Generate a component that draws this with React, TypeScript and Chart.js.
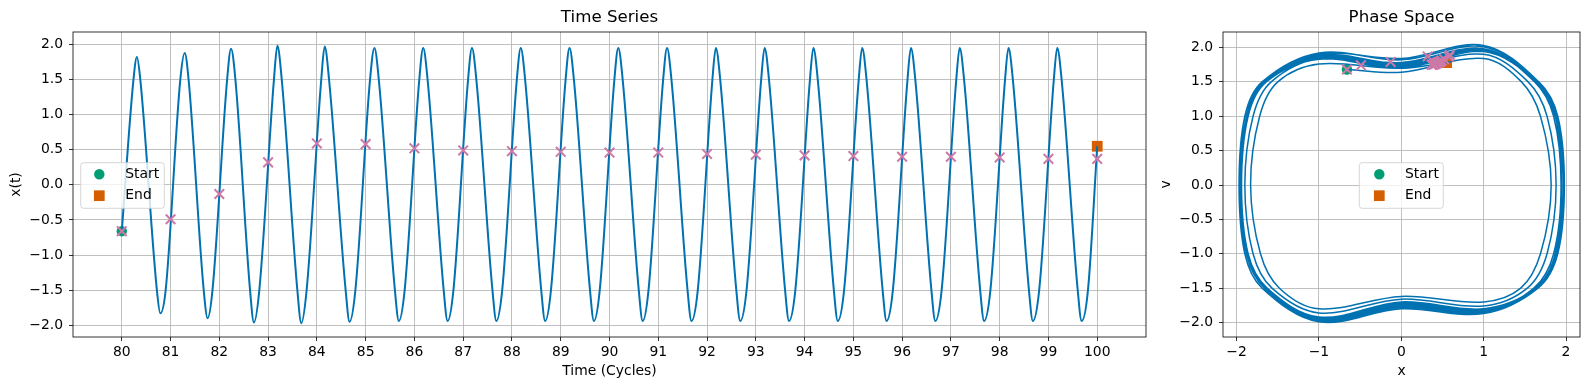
import React, { useEffect, useRef } from 'react';
import { Chart, registerables } from 'chart.js';
Chart.register(...registerables);

// ---------------- Time series x(t) (time in cycles) ----------------
const TS_T = [
  80.00, 80.24, 80.31, 80.38, 80.72, 80.79,
  80.90, 81.20, 81.29, 81.37, 81.68, 81.76,
  81.86, 82.16, 82.24, 82.33, 82.63, 82.71,
  82.82, 83.12, 83.19, 83.28, 83.60, 83.68,
  83.79, 84.09, 84.16, 84.25, 84.59, 84.67,
  84.79, 85.09, 85.18, 85.27, 85.60, 85.68,
  85.80, 86.10, 86.18, 86.27, 86.60, 86.68,
  86.80, 87.10, 87.18, 87.27, 87.60, 87.68,
  87.80, 88.10, 88.18, 88.27, 88.60, 88.68,
  88.80, 89.10, 89.18, 89.27, 89.60, 89.68,
  89.80, 90.10, 90.18, 90.27, 90.60, 90.68,
  90.80, 91.10, 91.18, 91.27, 91.60, 91.68,
  91.81, 92.11, 92.18, 92.27, 92.60, 92.68,
  92.81, 93.11, 93.18, 93.27, 93.60, 93.68,
  93.81, 94.11, 94.18, 94.27, 94.60, 94.68,
  94.81, 95.11, 95.18, 95.27, 95.60, 95.68,
  95.81, 96.11, 96.18, 96.27, 96.60, 96.68,
  96.81, 97.11, 97.18, 97.27, 97.60, 97.68,
  97.81, 98.11, 98.18, 98.27, 98.60, 98.68,
  98.81, 99.11, 99.18, 99.27, 99.60, 99.68,
  99.81, 100.00,
];
const TS_X = [
  -0.66, 1.50, 1.82, 1.50, -1.50, -1.83,
  -1.50, 1.50, 1.88, 1.50, -1.50, -1.90,
  -1.50, 1.50, 1.94, 1.50, -1.50, -1.96,
  -1.50, 1.50, 1.98, 1.50, -1.50, -1.97,
  -1.50, 1.50, 1.97, 1.50, -1.50, -1.95,
  -1.50, 1.50, 1.95, 1.50, -1.50, -1.94,
  -1.50, 1.50, 1.95, 1.50, -1.50, -1.94,
  -1.50, 1.50, 1.95, 1.50, -1.50, -1.94,
  -1.50, 1.50, 1.95, 1.50, -1.50, -1.94,
  -1.50, 1.50, 1.95, 1.50, -1.50, -1.94,
  -1.50, 1.50, 1.95, 1.50, -1.50, -1.94,
  -1.50, 1.50, 1.95, 1.50, -1.50, -1.94,
  -1.50, 1.50, 1.95, 1.50, -1.50, -1.94,
  -1.50, 1.50, 1.95, 1.50, -1.50, -1.94,
  -1.50, 1.50, 1.95, 1.50, -1.50, -1.94,
  -1.50, 1.50, 1.95, 1.50, -1.50, -1.94,
  -1.50, 1.50, 1.95, 1.50, -1.50, -1.94,
  -1.50, 1.50, 1.95, 1.50, -1.50, -1.94,
  -1.50, 1.50, 1.95, 1.50, -1.50, -1.94,
  -1.50, 1.50, 1.95, 1.50, -1.50, -1.94,
  -1.50, 0.55,
];

// ---------------- Stroboscopic (once-per-cycle) samples ----------------
const POINC_T = [80, 81, 82, 83, 84, 85, 86, 87, 88, 89, 90, 91, 92, 93, 94, 95, 96, 97, 98, 99, 100];
const POINC_X = [-0.66, -0.49, -0.13, 0.32, 0.59, 0.58, 0.52, 0.49, 0.48, 0.47, 0.46, 0.46, 0.44, 0.43, 0.42, 0.41, 0.40, 0.40, 0.39, 0.37, 0.37];
const POINC_V = [1.68, 1.74, 1.79, 1.87, 1.89, 1.86, 1.83, 1.81, 1.80, 1.79, 1.79, 1.78, 1.78, 1.77, 1.77, 1.76, 1.76, 1.76, 1.75, 1.75, 1.75];

// ---------------- Start / End ----------------
const START_T = 80, START_X = -0.66, START_V = 1.68;
const END_T = 100, END_X = 0.55, END_V = 1.78;
const LEGEND_LABELS = ['Start', 'End'];

// ---------------- Phase-space trajectory (x, v), one lap per line ----------------
const PHASE_X = [
  -0.66,
  0.00, 1.00, 1.46, 1.69, 1.82, 1.69, 1.45, 1.00, 0.00, -1.00, -1.48, -1.71, -1.83, -1.72, -1.50,
  -1.00, 0.00, 1.00, 1.54, 1.77, 1.88, 1.77, 1.53, 1.00, 0.00, -1.00, -1.57, -1.80, -1.90, -1.80, -1.58,
  -1.00, 0.00, 1.00, 1.62, 1.85, 1.94, 1.85, 1.61, 1.00, 0.00, -1.00, -1.66, -1.88, -1.96, -1.88, -1.67,
  -1.00, 0.00, 1.00, 1.67, 1.90, 1.98, 1.90, 1.66, 1.00, 0.00, -1.00, -1.69, -1.90, -1.97, -1.90, -1.69,
  -1.00, 0.00, 1.00, 1.66, 1.89, 1.97, 1.89, 1.65, 1.00, 0.00, -1.00, -1.66, -1.88, -1.95, -1.88, -1.67,
  -1.00, 0.00, 1.00, 1.64, 1.88, 1.95, 1.88, 1.63, 1.00, 0.00, -1.00, -1.64, -1.87, -1.94, -1.87, -1.65,
  -1.00, 0.00, 1.00, 1.64, 1.87, 1.95, 1.87, 1.63, 1.00, 0.00, -1.00, -1.63, -1.86, -1.94, -1.86, -1.64,
  -1.00, 0.00, 1.00, 1.64, 1.87, 1.95, 1.87, 1.63, 1.00, 0.00, -1.00, -1.63, -1.86, -1.94, -1.86, -1.64,
  -1.00, 0.00, 1.00, 1.64, 1.87, 1.95, 1.87, 1.63, 1.00, 0.00, -1.00, -1.63, -1.86, -1.94, -1.86, -1.64,
  -1.00, 0.00, 1.00, 1.64, 1.87, 1.95, 1.87, 1.63, 1.00, 0.00, -1.00, -1.63, -1.86, -1.94, -1.86, -1.64,
  -1.00, 0.00, 1.00, 1.64, 1.87, 1.95, 1.87, 1.63, 1.00, 0.00, -1.00, -1.63, -1.86, -1.94, -1.86, -1.64,
  -1.00, 0.00, 1.00, 1.64, 1.87, 1.95, 1.87, 1.63, 1.00, 0.00, -1.00, -1.63, -1.86, -1.94, -1.86, -1.64,
  -1.00, 0.00, 1.00, 1.64, 1.87, 1.95, 1.87, 1.63, 1.00, 0.00, -1.00, -1.63, -1.86, -1.94, -1.86, -1.64,
  -1.00, 0.00, 1.00, 1.64, 1.87, 1.95, 1.87, 1.63, 1.00, 0.00, -1.00, -1.63, -1.86, -1.94, -1.86, -1.64,
  -1.00, 0.00, 1.00, 1.64, 1.87, 1.95, 1.87, 1.63, 1.00, 0.00, -1.00, -1.63, -1.86, -1.94, -1.86, -1.64,
  -1.00, 0.00, 1.00, 1.64, 1.87, 1.95, 1.87, 1.63, 1.00, 0.00, -1.00, -1.63, -1.86, -1.94, -1.86, -1.64,
  -1.00, 0.00, 1.00, 1.64, 1.87, 1.95, 1.87, 1.63, 1.00, 0.00, -1.00, -1.63, -1.86, -1.94, -1.86, -1.64,
  -1.00, 0.00, 1.00, 1.64, 1.87, 1.95, 1.87, 1.63, 1.00, 0.00, -1.00, -1.63, -1.86, -1.94, -1.86, -1.64,
  -1.00, 0.00, 1.00, 1.64, 1.87, 1.95, 1.87, 1.63, 1.00, 0.00, -1.00, -1.63, -1.86, -1.94, -1.86, -1.64,
  -1.00, 0.00, 1.00, 1.64, 1.87, 1.95, 1.87, 1.63, 1.00, 0.00, -1.00, -1.63, -1.86, -1.94, -1.86, -1.64,
  -1.00, 0.00, 0.55,
];
const PHASE_V = [
  1.68,
  1.64, 1.84, 1.50, 1.00, 0.00, -1.00, -1.50, -1.70, -1.62, -1.80, -1.50, -1.00, 0.00, 1.00, 1.50,
  1.76, 1.70, 1.90, 1.50, 1.00, 0.00, -1.00, -1.50, -1.76, -1.66, -1.86, -1.50, -1.00, 0.00, 1.00, 1.50,
  1.84, 1.78, 1.98, 1.50, 1.00, 0.00, -1.00, -1.50, -1.85, -1.76, -1.97, -1.50, -1.00, 0.00, 1.00, 1.50,
  1.90, 1.84, 2.03, 1.50, 1.00, 0.00, -1.00, -1.50, -1.87, -1.80, -1.99, -1.50, -1.00, 0.00, 1.00, 1.50,
  1.92, 1.82, 2.01, 1.50, 1.00, 0.00, -1.00, -1.50, -1.86, -1.78, -1.98, -1.50, -1.00, 0.00, 1.00, 1.50,
  1.89, 1.77, 1.98, 1.50, 1.00, 0.00, -1.00, -1.50, -1.84, -1.75, -1.96, -1.50, -1.00, 0.00, 1.00, 1.50,
  1.87, 1.75, 1.97, 1.50, 1.00, 0.00, -1.00, -1.50, -1.83, -1.74, -1.95, -1.50, -1.00, 0.00, 1.00, 1.50,
  1.86, 1.74, 1.96, 1.50, 1.00, 0.00, -1.00, -1.50, -1.83, -1.73, -1.95, -1.50, -1.00, 0.00, 1.00, 1.50,
  1.86, 1.73, 1.96, 1.50, 1.00, 0.00, -1.00, -1.50, -1.82, -1.73, -1.94, -1.50, -1.00, 0.00, 1.00, 1.50,
  1.85, 1.72, 1.95, 1.50, 1.00, 0.00, -1.00, -1.50, -1.82, -1.72, -1.94, -1.50, -1.00, 0.00, 1.00, 1.50,
  1.85, 1.72, 1.95, 1.50, 1.00, 0.00, -1.00, -1.50, -1.82, -1.72, -1.94, -1.50, -1.00, 0.00, 1.00, 1.50,
  1.85, 1.72, 1.95, 1.50, 1.00, 0.00, -1.00, -1.50, -1.81, -1.72, -1.94, -1.50, -1.00, 0.00, 1.00, 1.50,
  1.85, 1.71, 1.95, 1.50, 1.00, 0.00, -1.00, -1.50, -1.81, -1.72, -1.93, -1.50, -1.00, 0.00, 1.00, 1.50,
  1.84, 1.71, 1.95, 1.50, 1.00, 0.00, -1.00, -1.50, -1.81, -1.71, -1.93, -1.50, -1.00, 0.00, 1.00, 1.50,
  1.84, 1.71, 1.94, 1.50, 1.00, 0.00, -1.00, -1.50, -1.81, -1.71, -1.93, -1.50, -1.00, 0.00, 1.00, 1.50,
  1.84, 1.71, 1.94, 1.50, 1.00, 0.00, -1.00, -1.50, -1.81, -1.71, -1.93, -1.50, -1.00, 0.00, 1.00, 1.50,
  1.84, 1.71, 1.94, 1.50, 1.00, 0.00, -1.00, -1.50, -1.80, -1.71, -1.93, -1.50, -1.00, 0.00, 1.00, 1.50,
  1.84, 1.70, 1.94, 1.50, 1.00, 0.00, -1.00, -1.50, -1.80, -1.71, -1.92, -1.50, -1.00, 0.00, 1.00, 1.50,
  1.84, 1.70, 1.94, 1.50, 1.00, 0.00, -1.00, -1.50, -1.80, -1.70, -1.92, -1.50, -1.00, 0.00, 1.00, 1.50,
  1.83, 1.70, 1.94, 1.50, 1.00, 0.00, -1.00, -1.50, -1.80, -1.70, -1.92, -1.50, -1.00, 0.00, 1.00, 1.50,
  1.83, 1.70, 1.78,
];

// ---------------- Axes ----------------
const TS_TICKS = [80, 81, 82, 83, 84, 85, 86, 87, 88, 89, 90, 91, 92, 93, 94, 95, 96, 97, 98, 99, 100];
const Y_TICKS = [-2.0, -1.5, -1.0, -0.5, 0.0, 0.5, 1.0, 1.5, 2.0];
const PH_X_TICKS = [-2, -1, 0, 1, 2];
const TS_XRANGE = [79, 101];
const TS_YRANGE = [-2.1675, 2.1775];
const PH_XRANGE = [-2.165, 2.17];
const PH_YRANGE = [-2.21, 2.225];

const TITLES = ['Time Series', 'Phase Space'];
const XLABELS = ['Time (Cycles)', 'x'];
const YLABELS = ['x(t)', 'v'];

const BLUE = '#0072b2';
const GREEN = '#009e73';
const ORANGE = '#d55e00';
const PINK = '#cc79a7';
const FONT = '"DejaVu Sans", sans-serif';

const fmt = (v: number, d: number) => (d > 0 ? v.toFixed(d) : String(v)).replace('-', '\u2212');

function roundRectPath(ctx: CanvasRenderingContext2D, x: number, y: number, w: number, h: number, r: number) {
  ctx.beginPath();
  ctx.moveTo(x + r, y);
  ctx.lineTo(x + w - r, y);
  ctx.quadraticCurveTo(x + w, y, x + w, y + r);
  ctx.lineTo(x + w, y + h - r);
  ctx.quadraticCurveTo(x + w, y + h, x + w - r, y + h);
  ctx.lineTo(x + r, y + h);
  ctx.quadraticCurveTo(x, y + h, x, y + h - r);
  ctx.lineTo(x, y + r);
  ctx.quadraticCurveTo(x, y, x + r, y);
  ctx.closePath();
}

const decorPlugin = {
  id: 'decor',
  afterDatasetsDraw(chart: any, _args: any, o: any) {
    const ctx: CanvasRenderingContext2D = chart.ctx;
    const a = chart.chartArea;
    ctx.save();
    // frame
    ctx.strokeStyle = '#000';
    ctx.lineWidth = 0.8;
    ctx.strokeRect(a.left, a.top, a.right - a.left, a.bottom - a.top);
    // legend
    const L = o.legend;
    roundRectPath(ctx, L.x, L.y, L.w, L.h, 2.8);
    ctx.fillStyle = 'rgba(255,255,255,0.8)';
    ctx.fill();
    ctx.strokeStyle = 'rgba(204,204,204,0.8)';
    ctx.lineWidth = 1;
    ctx.stroke();
    const r1 = L.y + 11.6;
    const r2 = L.y + 33.0;
    ctx.fillStyle = GREEN;
    ctx.beginPath();
    ctx.arc(L.x + L.mx, r1, 5.2, 0, Math.PI * 2);
    ctx.fill();
    ctx.fillStyle = ORANGE;
    ctx.fillRect(L.x + L.mx - 5.35, r2 - 5.35, 10.7, 10.7);
    ctx.fillStyle = '#000';
    ctx.font = `13.9px ${FONT}`;
    ctx.textAlign = 'left';
    ctx.textBaseline = 'middle';
    ctx.fillText(LEGEND_LABELS[0], L.x + L.tx, r1);
    ctx.fillText(LEGEND_LABELS[1], L.x + L.tx, r2);
    // title
    ctx.textAlign = 'center';
    ctx.font = `16.67px ${FONT}`;
    ctx.fillText(o.title, (a.left + a.right) / 2, 17.5);
    // axis labels
    ctx.font = `13.9px ${FONT}`;
    ctx.fillText(o.xLabel, (a.left + a.right) / 2, 371.5);
    ctx.save();
    ctx.translate(o.yLabelX, (a.top + a.bottom) / 2);
    ctx.rotate(-Math.PI / 2);
    ctx.fillText(o.yLabel, 0, 0);
    ctx.restore();
    ctx.restore();
  },
};

function axisCommon() {
  return {
    grid: { color: '#b0b0b0', lineWidth: 0.8, tickColor: '#000', tickLength: 4, tickWidth: 0.8, drawTicks: true },
    border: { display: false },
  };
}

function makeScales(xr: number[], yr: number[], xticks: number[], xfmt: (v: number) => string, yAxisWidth: number) {
  return {
    x: {
      type: 'linear' as const,
      min: xr[0],
      max: xr[1],
      ...axisCommon(),
      afterBuildTicks: (s: any) => { s.ticks = xticks.map((v) => ({ value: v })); },
      afterFit: (s: any) => { s.height = 53; },
      ticks: { color: '#000', font: { size: 13.9, family: FONT }, padding: 3, autoSkip: false, maxRotation: 0, callback: (v: any) => xfmt(Number(v)) },
    },
    y: {
      type: 'linear' as const,
      min: yr[0],
      max: yr[1],
      ...axisCommon(),
      afterBuildTicks: (s: any) => { s.ticks = Y_TICKS.map((v) => ({ value: v })); },
      afterFit: (s: any) => { s.width = yAxisWidth; },
      ticks: { color: '#000', font: { size: 13.9, family: FONT }, padding: 6, autoSkip: false, callback: (v: any) => fmt(Number(v), 1) },
    },
  };
}

function markerSets(sx: number, sy: number, ex: number, ey: number, px: number[], py: number[]) {
  return [
    {
      label: 'strobe',
      data: px.map((x, i) => ({ x, y: py[i] })),
      showLine: false,
      pointStyle: 'crossRot',
      pointRadius: 6.8,
      pointBorderWidth: 2,
      pointBorderColor: PINK,
      pointBackgroundColor: PINK,
      order: 0,
    },
    {
      label: LEGEND_LABELS[1],
      data: [{ x: ex, y: ey }],
      showLine: false,
      pointStyle: 'rect',
      pointRadius: 7.6,
      pointBorderWidth: 0,
      pointBackgroundColor: ORANGE,
      pointBorderColor: ORANGE,
      order: 2,
    },
    {
      label: LEGEND_LABELS[0],
      data: [{ x: sx, y: sy }],
      showLine: false,
      pointStyle: 'circle',
      pointRadius: 5.2,
      pointBorderWidth: 0,
      pointBackgroundColor: GREEN,
      pointBorderColor: GREEN,
      order: 3,
    },
  ];
}

function ChartCanvas({ width, height, left, build }: { width: number; height: number; left: number; build: () => any }) {
  const ref = useRef<HTMLCanvasElement | null>(null);
  useEffect(() => {
    if (!ref.current) return;
    const chart = new Chart(ref.current, build());
    return () => chart.destroy();
  }, []);
  return (
    <canvas
      ref={ref}
      width={width}
      height={height}
      style={{ position: 'absolute', left, top: 0, width, height }}
    />
  );
}

function buildTimeSeries() {
  const marks = markerSets(START_T, START_X, END_T, END_X, POINC_T, POINC_X);
  return {
    type: 'line',
    data: {
      datasets: [
        marks[0],
        {
          label: 'x(t)',
          data: TS_T.map((t, i) => ({ x: t, y: TS_X[i] })),
          borderColor: BLUE,
          borderWidth: 2,
          pointRadius: 0,
          cubicInterpolationMode: 'monotone',
          fill: false,
          order: 1,
        },
        marks[1],
        marks[2],
      ],
    },
    options: {
      responsive: false,
      animation: false,
      events: [],
      layout: { padding: { top: 32, right: 14, left: 0, bottom: 0 } },
      scales: makeScales(TS_XRANGE, TS_YRANGE, TS_TICKS, (v) => String(v), 73),
      plugins: {
        legend: { display: false },
        title: { display: false },
        tooltip: { enabled: false },
        decor: {
          title: TITLES[0],
          xLabel: XLABELS[0],
          yLabel: YLABELS[0],
          yLabelX: 16.7,
          legend: { x: 80.7, y: 162.7, w: 83.6, h: 45.6, mx: 18.6, tx: 44.6 },
        },
      },
    },
    plugins: [decorPlugin],
  };
}

function buildPhase() {
  const marks = markerSets(START_X, START_V, END_X, END_V, POINC_X, POINC_V);
  return {
    type: 'line',
    data: {
      datasets: [
        marks[0],
        {
          label: 'phase',
          data: PHASE_X.map((x, i) => ({ x, y: PHASE_V[i] })),
          borderColor: BLUE,
          borderWidth: 1.5,
          pointRadius: 0,
          tension: 0.35,
          fill: false,
          order: 1,
        },
        marks[1],
        marks[2],
      ],
    },
    options: {
      responsive: false,
      animation: false,
      events: [],
      layout: { padding: { top: 32, right: 9, left: 0, bottom: 0 } },
      scales: makeScales(PH_XRANGE, PH_YRANGE, PH_X_TICKS, (v) => fmt(v, 0), 63),
      plugins: {
        legend: { display: false },
        title: { display: false },
        tooltip: { enabled: false },
        decor: {
          title: TITLES[1],
          xLabel: XLABELS[1],
          yLabel: YLABELS[1],
          yLabelX: 6,
          legend: { x: 199.3, y: 162.7, w: 84, h: 45.6, mx: 20, tx: 45.7 },
        },
      },
    },
    plugins: [decorPlugin],
  };
}

export default function App() {
  return (
    <div style={{ position: 'absolute', left: 0, top: 0, width: 1589, height: 390, background: '#fff' }}>
      <ChartCanvas width={1160} height={390} left={0} build={buildTimeSeries} />
      <ChartCanvas width={429} height={390} left={1160} build={buildPhase} />
    </div>
  );
}
